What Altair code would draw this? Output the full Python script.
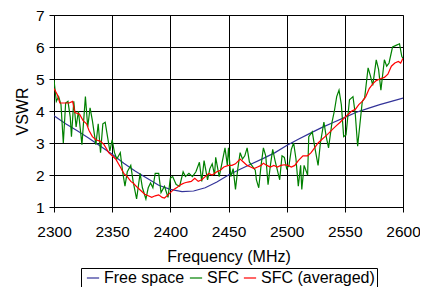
import altair as alt
import pandas as pd

# Free space (smooth)
fs_f = [2300, 2310, 2320, 2330, 2340, 2350, 2360, 2370, 2380, 2390, 2400, 2410, 2420,
        2430, 2440, 2450, 2460, 2470, 2480, 2490, 2500, 2510, 2520, 2530, 2540, 2550,
        2560, 2570, 2580, 2590, 2600]
fs_v = [3.85, 3.6, 3.38, 3.15, 2.9, 2.65, 2.37, 2.12, 1.9, 1.68, 1.55, 1.48, 1.5,
        1.6, 1.78, 2.0, 2.18, 2.35, 2.52, 2.7, 2.92, 3.12, 3.3, 3.48, 3.64, 3.8,
        3.96, 4.08, 4.2, 4.3, 4.4]

# SFC (raw, noisy)
sfc_f = [2300, 2302, 2304, 2306, 2308, 2310, 2312, 2314, 2315, 2317, 2319, 2321, 2324,
         2327, 2329, 2331, 2333, 2336, 2338, 2340, 2342, 2344, 2346, 2348, 2350, 2352,
         2354, 2357, 2359, 2361, 2363, 2366, 2368, 2371, 2374, 2376, 2379, 2381, 2383,
         2385, 2387, 2390, 2392, 2395, 2398, 2400, 2402, 2405, 2408, 2411, 2413, 2416,
         2419, 2422, 2425, 2427, 2429, 2432, 2434, 2436, 2438, 2439, 2442, 2444, 2447,
         2449, 2450, 2452, 2454, 2456, 2458, 2460, 2462, 2464, 2466, 2468, 2470, 2473,
         2474, 2476, 2478, 2480, 2482, 2484, 2486, 2488, 2490, 2492, 2494, 2496, 2498,
         2500, 2502, 2504, 2506, 2508, 2510, 2512, 2513, 2515, 2518, 2519, 2522, 2524,
         2527, 2529, 2532, 2534, 2536, 2539, 2541, 2543, 2545, 2547, 2549, 2551, 2554,
         2557, 2559, 2561, 2563, 2565, 2567, 2570, 2572, 2574, 2577, 2579, 2581, 2584,
         2586, 2588, 2591, 2594, 2597, 2599, 2600]
sfc_v = [4.97, 4.3, 4.45, 4.2, 3.0, 4.25, 4.3, 3.8, 3.2, 4.3, 3.5, 4.0, 2.95,
         4.45, 3.5, 4.1, 3.7, 2.95, 3.6, 2.7, 3.6, 3.65, 3.2, 2.75, 3.1, 2.7,
         2.5, 2.7, 2.1, 1.65, 2.1, 2.3, 1.8, 1.25, 2.05, 1.6, 1.25, 1.6, 1.75,
         1.6, 2.05, 2.05, 1.45, 1.65, 1.3, 1.9, 1.95, 1.7, 1.65, 2.1, 1.95, 2.05,
         1.95, 2.1, 2.4, 1.8, 2.45, 1.85, 2.2, 2.35, 2.0, 2.55, 1.95, 2.3, 2.85,
         2.3, 2.85, 1.95, 2.2, 1.55, 2.2, 2.7, 2.5, 2.6, 2.85, 2.4, 2.3, 2.15,
         1.85, 1.6, 2.3, 2.85, 2.6, 1.7, 2.3, 2.8, 2.45, 2.15, 1.85, 2.6, 2.55,
         2.2, 2.3, 2.8, 3.0, 2.5, 1.65, 2.3, 1.55, 2.3, 2.0, 3.2, 3.35, 2.9,
         2.3, 3.0, 3.65, 3.2, 2.85, 3.65, 4.0, 4.45, 4.65, 4.2, 3.2, 3.25, 4.35,
         4.45, 3.9, 2.9, 3.6, 4.3, 4.4, 5.35, 5.1, 4.8, 5.6, 5.3, 4.65, 5.6,
         5.4, 5.5, 6.0, 6.05, 6.1, 5.7, 5.65]

# SFC (averaged)
avg_f = [2300, 2303, 2305, 2310, 2313, 2316, 2318, 2322, 2325, 2328, 2330, 2333, 2336,
         2340, 2343, 2347, 2350, 2353, 2357, 2360, 2363, 2366, 2368, 2372, 2375, 2378,
         2381, 2384, 2387, 2390, 2393, 2395, 2398, 2400, 2403, 2406, 2409, 2412, 2415,
         2418, 2421, 2424, 2427, 2430, 2433, 2436, 2440, 2443, 2446, 2450, 2453, 2456,
         2460, 2463, 2466, 2469, 2472, 2475, 2478, 2480, 2483, 2486, 2489, 2492, 2495,
         2498, 2501, 2504, 2507, 2510, 2514, 2518, 2521, 2524, 2527, 2530, 2533, 2536,
         2540, 2543, 2546, 2550, 2553, 2556, 2559, 2562, 2565, 2568, 2571, 2574, 2577,
         2580, 2584, 2587, 2590, 2593, 2596, 2598, 2600]
avg_v = [4.7, 4.5, 4.25, 4.25, 4.25, 4.3, 3.95, 3.9, 3.7, 3.6, 3.4, 3.2, 3.1,
         3.05, 2.95, 2.7, 2.6, 2.5, 2.25, 2.05, 1.95, 1.8, 1.75, 1.6, 1.5, 1.4,
         1.35, 1.3, 1.35, 1.38, 1.3, 1.28, 1.38, 1.45, 1.55, 1.62, 1.7, 1.75, 1.78,
         1.8, 1.9, 1.8, 1.85, 1.95, 2.05, 2.0, 2.1, 2.15, 2.25, 2.3, 2.3, 2.35,
         2.5, 2.4, 2.3, 2.25, 2.2, 2.25, 2.3, 2.37, 2.3, 2.25, 2.3, 2.25, 2.3,
         2.32, 2.3, 2.25, 2.3, 2.45, 2.6, 2.6, 2.7, 2.85, 3.0, 3.1, 3.2, 3.3,
         3.45, 3.55, 3.65, 3.8, 3.9, 4.0, 4.05, 4.2, 4.3, 4.45, 4.7, 4.85, 4.95,
         5.0, 5.05, 5.15, 5.4, 5.5, 5.55, 5.5, 5.65]

x_ticks = [2300, 2350, 2400, 2450, 2500, 2550, 2600]
y_ticks = [1, 2, 3, 4, 5, 6, 7]

series_names = ["Free space", "SFC", "SFC (averaged)"]
series_colors = ["#333399", "#008000", "#FF0000"]

rows = []
for f, v in zip(fs_f, fs_v):
    rows.append({"freq": f, "vswr": v, "series": series_names[0], "o": 0})
for f, v in zip(sfc_f, sfc_v):
    rows.append({"freq": f, "vswr": v, "series": series_names[1], "o": 1})
for f, v in zip(avg_f, avg_v):
    rows.append({"freq": f, "vswr": v, "series": series_names[2], "o": 2})
df = pd.DataFrame(rows)

FONT = "Liberation Sans"

chart = alt.Chart(df).mark_line(strokeWidth=1.2, clip=True).encode(
    x=alt.X("freq:Q", title="Frequency (MHz)",
            scale=alt.Scale(domain=[2300, 2600], nice=False, zero=False),
            axis=alt.Axis(values=x_ticks, format="d", labelFontSize=15.5,
                          titleFontSize=16, labelPadding=12, titlePadding=9,
                          tickSize=5, labelFlush=False, grid=True,
                          gridColor="black", labelFont=FONT, titleFont=FONT,
                          titleFontWeight="normal", labelColor="black",
                          titleColor="black", domainColor="black",
                          tickColor="black")),
    y=alt.Y("vswr:Q", title="VSWR",
            scale=alt.Scale(domain=[1, 7], nice=False, zero=False),
            axis=alt.Axis(values=y_ticks, labelFontSize=15.5, titleFontSize=16,
                          labelPadding=5, titlePadding=5, tickSize=5,
                          labelFlush=False, grid=True, gridColor="black",
                          labelFont=FONT, titleFont=FONT,
                          titleFontWeight="normal", labelColor="black",
                          titleColor="black", domainColor="black",
                          tickColor="black")),
    color=alt.Color("series:N", title=None,
                    scale=alt.Scale(domain=series_names, range=series_colors),
                    legend=alt.Legend(orient="none", legendX=27, legendY=253,
                                      direction="horizontal",
                                      symbolType="stroke", symbolSize=150,
                                      symbolStrokeWidth=1.2,
                                      labelFontSize=16, labelFont=FONT,
                                      labelColor="black",
                                      strokeColor="black", padding=2,
                                      columnPadding=1, symbolOffset=2,
                                      labelOffset=3)),
    order=alt.Order("o:Q"),
    detail="series:N",
).properties(
    width=349, height=192,
    autosize=alt.AutoSizeParams(type="none"),
    padding={"left": 46, "top": 7, "right": 17, "bottom": 80},
).configure_view(
    stroke="#808080", strokeWidth=1,
)

chart.save("out.html", embed_options={"renderer": "svg", "actions": False})
